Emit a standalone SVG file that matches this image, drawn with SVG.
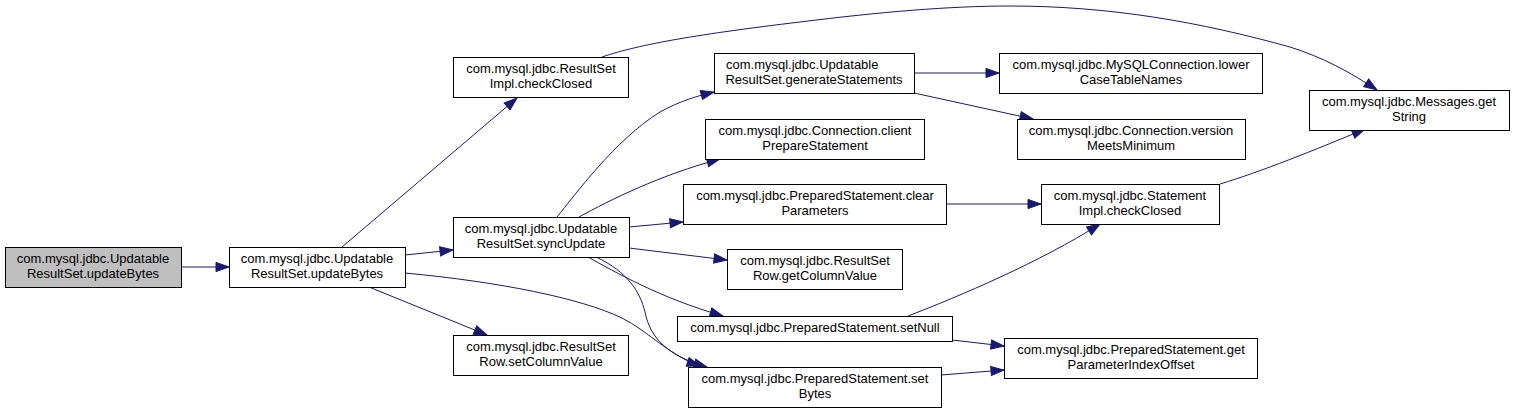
<svg xmlns="http://www.w3.org/2000/svg" width="1515" height="413" viewBox="0 0 1515 413">
<style>
.n rect{fill:#ffffff;stroke:#000000;stroke-width:1}
.n.root rect{fill:#bfbfbf}
.n text{font-family:"Liberation Sans",Arial,sans-serif;font-size:13px;fill:#000000;text-anchor:middle}
.n text.l{text-anchor:start}
.e path{fill:none;stroke:#191970;stroke-width:1;marker-end:url(#arr)}
</style>
<defs>
<marker id="arr" markerUnits="userSpaceOnUse" markerWidth="14" markerHeight="11" refX="13" refY="5" orient="auto" overflow="visible">
<path d="M0,0.4 L13,5 L0,9.6 z" fill="#191970" stroke="#191970" stroke-width="1"/>
</marker>
</defs>
<rect width="1515" height="413" fill="#ffffff"/>
<g id="edges" class="e">
<path d="M181,267 L229,267"/>
<path d="M342,247 L517,98"/>
<path d="M405,255 L453,250"/>
<path d="M405,273 C500,282 580,298 622,318 C648,331 670,356 700,366"/>
<path d="M369,287 L487,335"/>
<path d="M602,57 C640,44 700,34 800,22 C880,12 950,6 1010,6 C1110,6 1200,22 1290,47 C1322,57 1350,72 1377,90"/>
<path d="M557,217 C575,195 615,140 660,112 C680,101 697,96 714,92"/>
<path d="M579,217 C610,200 660,175 720,159"/>
<path d="M629,227 L683,222"/>
<path d="M629,248 L727,260"/>
<path d="M588,257 C615,272 660,298 723,316"/>
<path d="M596,257 C628,272 640,292 645,312 C650,338 668,356 707,367"/>
<path d="M914,73 L999,73"/>
<path d="M914,93 L1033,119"/>
<path d="M946,204 L1041,204"/>
<path d="M908,316 C960,296 1040,262 1100,224"/>
<path d="M1220,184 C1260,172 1315,150 1365,129"/>
<path d="M952,340 L1004,346"/>
<path d="M941,375 L1004,370"/>
</g>
<g id="node_root" class="n root"><rect x="5.5" y="247.5" width="176" height="40"/><text x="93" y="263">com.mysql.jdbc.Updatable</text><text x="93" y="278">ResultSet.updateBytes</text></g>
<g id="node_updateBytes" class="n"><rect x="229.5" y="247.5" width="176" height="40"/><text x="317" y="263">com.mysql.jdbc.Updatable</text><text x="317" y="278">ResultSet.updateBytes</text></g>
<g id="node_rsImplCheckClosed" class="n"><rect x="453.5" y="57.5" width="175" height="40"/><text x="541" y="73">com.mysql.jdbc.ResultSet</text><text x="541" y="88">Impl.checkClosed</text></g>
<g id="node_generateStatements" class="n"><rect x="714.5" y="53.5" width="200" height="40"/><text class="l" x="726" y="69">com.mysql.jdbc.Updatable</text><text x="814" y="84">ResultSet.generateStatements</text></g>
<g id="node_clientPrepareStatement" class="n"><rect x="705.5" y="119.5" width="219" height="40"/><text x="815" y="135">com.mysql.jdbc.Connection.client</text><text x="815" y="150">PrepareStatement</text></g>
<g id="node_clearParameters" class="n"><rect x="683.5" y="184.5" width="263" height="40"/><text x="815" y="200">com.mysql.jdbc.PreparedStatement.clear</text><text x="815" y="215">Parameters</text></g>
<g id="node_syncUpdate" class="n"><rect x="453.5" y="217.5" width="176" height="40"/><text x="541" y="233">com.mysql.jdbc.Updatable</text><text x="541" y="248">ResultSet.syncUpdate</text></g>
<g id="node_getColumnValue" class="n"><rect x="727.5" y="249.5" width="175" height="40"/><text x="815" y="265">com.mysql.jdbc.ResultSet</text><text x="815" y="280">Row.getColumnValue</text></g>
<g id="node_setNull" class="n"><rect x="677.5" y="316.5" width="275" height="25"/><text x="815" y="332">com.mysql.jdbc.PreparedStatement.setNull</text></g>
<g id="node_setColumnValue" class="n"><rect x="453.5" y="335.5" width="175" height="40"/><text x="541" y="351">com.mysql.jdbc.ResultSet</text><text x="541" y="366">Row.setColumnValue</text></g>
<g id="node_setBytes" class="n"><rect x="688.5" y="367.5" width="253" height="40"/><text x="815" y="383">com.mysql.jdbc.PreparedStatement.set</text><text x="815" y="398">Bytes</text></g>
<g id="node_lowerCaseTableNames" class="n"><rect x="999.5" y="53.5" width="263" height="40"/><text x="1131" y="69">com.mysql.jdbc.MySQLConnection.lower</text><text x="1131" y="84">CaseTableNames</text></g>
<g id="node_versionMeetsMinimum" class="n"><rect x="1017.5" y="119.5" width="228" height="40"/><text x="1131" y="135">com.mysql.jdbc.Connection.version</text><text x="1131" y="150">MeetsMinimum</text></g>
<g id="node_stmtImplCheckClosed" class="n"><rect x="1041.5" y="184.5" width="178" height="40"/><text x="1130" y="200">com.mysql.jdbc.Statement</text><text x="1130" y="215">Impl.checkClosed</text></g>
<g id="node_getString" class="n"><rect x="1309.5" y="90.5" width="200" height="40"/><text x="1409" y="106">com.mysql.jdbc.Messages.get</text><text x="1409" y="121">String</text></g>
<g id="node_getParameterIndexOffset" class="n"><rect x="1004.5" y="338.5" width="253" height="40"/><text x="1131" y="354">com.mysql.jdbc.PreparedStatement.get</text><text x="1131" y="369">ParameterIndexOffset</text></g>
</svg>
